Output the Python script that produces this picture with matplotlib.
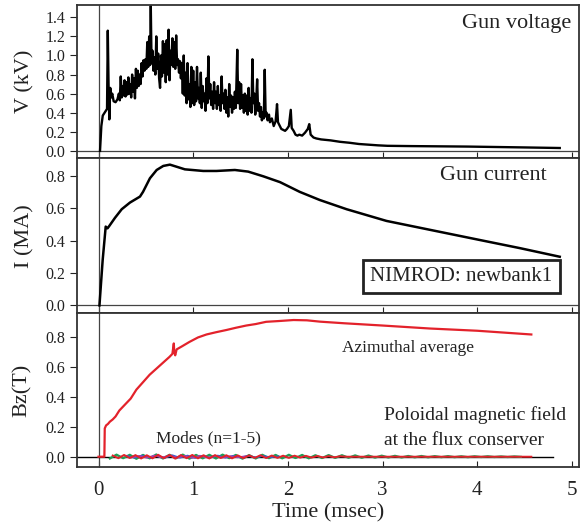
import matplotlib
matplotlib.use("Agg")
import matplotlib.pyplot as plt

plt.rcParams['font.family'] = ['Liberation Serif', 'DejaVu Serif']

# gun voltage (kV) vs time (msec)
volt_t = [0.016, 0.03, 0.045, 0.07, 0.09, 0.098, 0.106, 0.114, 0.124, 0.134,
          0.145, 0.16, 0.18, 0.20, 0.215, 0.225, 0.235, 0.245, 0.255, 0.265,
          0.275, 0.285, 0.295, 0.305, 0.315, 0.325, 0.335, 0.345, 0.355, 0.365,
          0.375, 0.385, 0.395, 0.405, 0.415, 0.425, 0.435, 0.445, 0.455, 0.465,
          0.475, 0.485, 0.495, 0.505, 0.515, 0.525, 0.535, 0.545, 0.552, 0.56,
          0.57, 0.58, 0.59, 0.60, 0.61, 0.62, 0.63, 0.64, 0.65, 0.66,
          0.67, 0.68, 0.69, 0.70, 0.71, 0.72, 0.73, 0.74, 0.75, 0.76,
          0.77, 0.78, 0.79, 0.80, 0.81, 0.82, 0.83, 0.84, 0.85, 0.86,
          0.87, 0.88, 0.89, 0.90, 0.91, 0.92, 0.93, 0.94, 0.95, 0.96,
          0.97, 0.98, 0.99, 1.00, 1.01, 1.02, 1.03, 1.04, 1.05, 1.06,
          1.07, 1.08, 1.09, 1.10, 1.11, 1.12, 1.13, 1.14, 1.15, 1.16,
          1.17, 1.18, 1.19, 1.20, 1.21, 1.22, 1.23, 1.24, 1.25, 1.26,
          1.27, 1.28, 1.29, 1.30, 1.31, 1.32, 1.33, 1.34, 1.35, 1.36,
          1.37, 1.38, 1.39, 1.40, 1.41, 1.42, 1.43, 1.44, 1.45, 1.465,
          1.475, 1.485, 1.495, 1.505, 1.515, 1.525, 1.535, 1.545, 1.555, 1.565,
          1.575, 1.585, 1.595, 1.605, 1.615, 1.625, 1.635, 1.645, 1.655, 1.665,
          1.675, 1.685, 1.695, 1.705, 1.715, 1.725, 1.735, 1.745, 1.755, 1.765,
          1.775, 1.785, 1.80, 1.81, 1.83, 1.85, 1.87, 1.885, 1.895, 1.91,
          1.93, 1.95, 1.97, 1.99, 2.01, 2.03, 2.04, 2.06, 2.08, 2.10,
          2.12, 2.15, 2.18, 2.21, 2.225, 2.24, 2.27, 2.30, 2.35, 2.45,
          2.55, 2.65, 2.75, 2.85, 2.95, 3.05, 3.3, 3.6, 3.9, 4.2,
          4.5, 4.87]
volt_v = [0.00, 0.26, 0.37, 0.41, 0.44, 1.26, 0.70, 0.33, 0.66, 0.56,
          0.60, 0.52, 0.51, 0.54, 0.60, 0.53, 0.78, 0.56, 0.68, 0.58,
          0.74, 0.57, 0.72, 0.59, 0.77, 0.60, 0.70, 0.56, 0.80, 0.62,
          0.76, 0.55, 0.86, 0.66, 0.84, 0.68, 0.80, 0.70, 0.92, 0.78,
          0.95, 0.84, 0.96, 0.86, 1.14, 0.88, 1.20, 0.90, 1.52, 0.92,
          1.05, 0.84, 0.98, 0.80, 1.20, 0.86, 1.02, 0.76, 0.66, 1.00,
          0.78, 1.15, 0.82, 1.12, 0.72, 1.16, 0.80, 1.27, 0.74, 1.05,
          0.90, 1.18, 0.88, 1.14, 0.86, 1.21, 0.90, 0.96, 0.82, 0.94,
          0.76, 0.92, 0.60, 1.00, 0.58, 0.82, 0.50, 0.92, 0.54, 0.70,
          0.46, 0.88, 0.50, 0.84, 0.48, 0.72, 0.52, 0.88, 0.55, 0.66,
          0.50, 0.82, 0.45, 0.68, 0.52, 0.60, 0.42, 0.76, 0.50, 0.99,
          0.55, 0.70, 0.48, 0.62, 0.44, 0.72, 0.50, 0.62, 0.44, 0.68,
          0.48, 0.58, 0.42, 0.78, 0.50, 0.60, 0.44, 0.64, 0.40, 0.56,
          0.36, 0.70, 0.46, 0.58, 0.40, 0.56, 0.44, 0.62, 0.45, 1.06,
          0.50, 0.72, 0.44, 0.70, 0.45, 0.58, 0.40, 0.60, 0.42, 0.58,
          0.38, 0.66, 0.42, 0.55, 0.40, 0.96, 0.50, 0.60, 0.38, 0.52,
          0.75, 0.42, 0.50, 0.36, 0.46, 0.32, 0.40, 0.34, 0.85, 0.36,
          0.40, 0.32, 0.38, 0.30, 0.34, 0.26, 0.31, 0.49, 0.30, 0.27,
          0.23, 0.22, 0.21, 0.23, 0.26, 0.43, 0.24, 0.21, 0.17, 0.16,
          0.17, 0.16, 0.19, 0.23, 0.28, 0.17, 0.14, 0.13, 0.12, 0.11,
          0.095, 0.085, 0.072, 0.065, 0.058, 0.053, 0.05, 0.048, 0.045, 0.04,
          0.036, 0.03]

# gun current (MA)
curr_t = [0.01, 0.044, 0.076, 0.095, 0.114, 0.174, 0.245, 0.332, 0.438, 0.47,
          0.543, 0.614, 0.684, 0.754, 0.825, 0.912, 1.106, 1.246, 1.44, 1.58,
          1.74, 1.917, 2.125, 2.336, 2.62, 3.04, 3.5, 4.02, 4.45, 4.87]
curr_i = [0.0, 0.28, 0.486, 0.475, 0.49, 0.54, 0.593, 0.634, 0.671, 0.70,
          0.784, 0.835, 0.86, 0.868, 0.855, 0.839, 0.829, 0.829, 0.835, 0.825,
          0.796, 0.76, 0.70, 0.65, 0.593, 0.521, 0.466, 0.404, 0.353, 0.30]

# azimuthal average Bz (T)
bz_t = [0.0, 0.062, 0.066, 0.08, 0.10, 0.12, 0.15, 0.18, 0.22, 0.28,
        0.34, 0.40, 0.47, 0.54, 0.61, 0.68, 0.75, 0.78, 0.795, 0.80,
        0.81, 0.825, 0.88, 0.96, 1.05, 1.14, 1.24, 1.35, 1.45, 1.56,
        1.66, 1.77, 1.90, 2.06, 2.20, 2.34, 2.6, 3.0, 3.5, 4.0, 4.57]
bz_b = [0.0, 0.0, 0.19, 0.21, 0.22, 0.235, 0.25, 0.27, 0.31, 0.35,
        0.39, 0.45, 0.50, 0.55, 0.59, 0.63, 0.67, 0.69, 0.76, 0.70,
        0.68, 0.72, 0.74, 0.77, 0.80, 0.82, 0.835, 0.85, 0.865, 0.88,
        0.89, 0.905, 0.91, 0.917, 0.915, 0.906, 0.895, 0.88, 0.86, 0.845, 0.82]

# modes n=1-5
green_t = [0.12, 0.19, 0.26, 0.33, 0.40, 0.47, 0.54, 0.61, 0.68, 0.75,
           0.82, 0.89, 0.96, 1.03, 1.10, 1.17, 1.24, 1.31, 1.38, 1.45,
           1.52, 1.59, 1.66, 1.73, 1.80, 1.87, 1.94, 2.01, 2.08, 2.15,
           2.22, 2.29, 2.36, 2.43, 2.50, 2.57, 2.64, 2.71, 2.78, 2.85,
           2.92, 2.99, 3.06, 3.13, 3.20, 3.27, 3.34, 3.41, 3.48, 3.55,
           3.62, 3.69, 3.76, 3.83, 3.90, 3.97, 4.04, 4.11, 4.18, 4.25,
           4.32, 4.39, 4.46]
green_b = [-0.012, 0.014, -0.010, 0.013, -0.014, 0.012, -0.011, 0.015, -0.012, 0.013,
           -0.010, 0.014, -0.013, 0.012, -0.011, 0.013, -0.012, 0.014, -0.010, 0.012,
           -0.013, 0.011, -0.012, 0.013, -0.010, 0.012, -0.011, 0.013, -0.009, 0.012,
           -0.011, 0.010, -0.009, 0.011, -0.008, 0.010, -0.007, 0.009, -0.007, 0.008,
           -0.006, 0.007, -0.005, 0.006, -0.005, 0.005, -0.004, 0.005, -0.004, 0.004,
           -0.003, 0.004, -0.003, 0.003, -0.003, 0.003, -0.002, 0.003, -0.002, 0.002,
           -0.002, 0.002, -0.001]
red_t = [0.15, 0.21, 0.27, 0.33, 0.39, 0.45, 0.51, 0.57, 0.63, 0.69,
         0.75, 0.81, 0.87, 0.93, 0.99, 1.05, 1.11, 1.17, 1.23, 1.29,
         1.35, 1.41, 1.47, 1.53, 1.59, 1.65, 1.71, 1.77, 1.83, 1.89,
         1.95, 2.01, 2.07, 2.13, 2.19, 2.25, 2.31, 2.37, 2.43, 2.49,
         2.55, 2.62, 4.57]
red_b = [0.008, -0.010, 0.012, -0.009, 0.011, -0.012, 0.010, -0.011, 0.013, -0.010,
         0.012, -0.013, 0.011, -0.010, 0.012, -0.011, 0.010, -0.012, 0.011, -0.009,
         0.010, -0.011, 0.009, -0.010, 0.009, -0.008, 0.010, -0.009, 0.008, -0.008,
         0.007, -0.008, 0.007, -0.006, 0.006, -0.006, 0.005, -0.005, 0.004, -0.004,
         0.003, 0.0, 0.0]
blue_t = [0.30, 0.38, 0.46, 0.54, 0.62, 0.70, 0.78, 0.86, 0.94, 1.02,
          1.10, 1.18, 1.26, 1.34, 1.42, 1.50, 1.58, 1.66, 1.74, 1.82, 1.90]
blue_b = [0.006, -0.007, 0.008, -0.006, 0.009, -0.008, 0.010, -0.007, 0.008, -0.009,
          0.007, -0.006, 0.008, -0.007, 0.006, -0.005, 0.006, -0.004, 0.005, -0.004, 0.003]
purple_t = [0.35, 0.43, 0.51, 0.59, 0.67, 0.75, 0.83, 0.91, 0.99, 1.07,
            1.15, 1.23, 1.31, 1.39, 1.47, 1.55]
purple_b = [-0.005, 0.006, -0.007, 0.008, -0.006, 0.009, -0.007, 0.006, -0.008, 0.007,
            -0.006, 0.005, -0.006, 0.004, -0.004, 0.003]

xticks = [0, 1, 2, 3, 4, 5]
xlim = (-0.23, 5.07)
txt = '#222222'
red = '#e3222b'

fig = plt.figure(figsize=(5.83, 5.23), dpi=100)
L, W = 0.1316, 0.861
ax1 = fig.add_axes([L, 0.6973, W, 0.2937])
ax2 = fig.add_axes([L, 0.4015, W, 0.2958])
ax3 = fig.add_axes([L, 0.1065, W, 0.2950])

for ax in (ax1, ax2, ax3):
    ax.set_xlim(*xlim)
    ax.set_xticks(xticks)
    ax.tick_params(axis='x', direction='in', length=4, width=0.8, labelsize=15,
                   colors=txt, pad=10)
    ax.tick_params(axis='y', direction='out', length=5, width=0.8, labelsize=11.5,
                   colors=txt, pad=3)
    ax.axvline(0, color='#444444', lw=0.9)
    for s in ax.spines.values():
        s.set_linewidth(1.3)
        s.set_color('#333333')
    ax.yaxis.set_major_formatter(matplotlib.ticker.FormatStrFormatter('%.1f'))

ax1.tick_params(labelbottom=False)
ax2.tick_params(labelbottom=False)

# voltage
ax1.set_ylim(-0.078, 1.532)
ax1.set_yticks([0.0, 0.2, 0.4, 0.6, 0.8, 1.0, 1.2, 1.4])
ax1.axhline(0, color='#444444', lw=0.9)
ax1.plot(volt_t, volt_v, color='black', lw=1.7)
ax1.text(4.99, 1.34, 'Gun voltage', ha='right', va='center', fontsize=16, color=txt)
ax1.set_ylabel('V (kV)', fontsize=16, color=txt)
ax1.yaxis.set_label_coords(-0.085, 0.5)

# current
ax2.set_ylim(-0.047, 0.907)
ax2.set_yticks([0.0, 0.2, 0.4, 0.6, 0.8])
ax2.axhline(0, color='#444444', lw=0.9)
ax2.plot(curr_t, curr_i, color='black', lw=1.8)
ax2.text(4.73, 0.80, 'Gun current', ha='right', va='center', fontsize=16, color=txt)
ax2.text(3.83, 0.177, 'NIMROD: newbank1', ha='center', va='center', fontsize=15,
         color=txt, bbox=dict(boxstyle='square,pad=0.35', fc='white', ec='#222222', lw=2))
ax2.set_ylabel('I (MA)', fontsize=16, color=txt)
ax2.yaxis.set_label_coords(-0.085, 0.5)

# Bz
ax3.set_ylim(-0.071, 0.964)
ax3.set_yticks([0.0, 0.2, 0.4, 0.6, 0.8])
ax3.plot([xlim[0], 4.8], [0, 0], color='black', lw=1.0)
ax3.plot(green_t, green_b, color='#1f9e55', lw=1.6)
ax3.plot(blue_t, blue_b, color='#3a5fcd', lw=1.2)
ax3.plot(purple_t, purple_b, color='#a040b0', lw=1.2)
ax3.plot(red_t, red_b, color=red, lw=1.4)
ax3.plot(bz_t, bz_b, color=red, lw=1.6)
ax3.text(2.576, 0.73, 'Azimuthal average', ha='left', va='center', fontsize=12.5, color=txt)
ax3.text(0.603, 0.125, 'Modes (n=1-5)', ha='left', va='center', fontsize=12.5, color=txt)
ax3.text(3.01, 0.28, 'Poloidal magnetic field', ha='left', va='center', fontsize=14, color=txt)
ax3.text(3.01, 0.112, 'at the flux conserver', ha='left', va='center', fontsize=14, color=txt)
ax3.set_ylabel('Bz(T)', fontsize=16, color=txt)
ax3.yaxis.set_label_coords(-0.089, 0.5)
ax3.set_xlabel('Time (msec)', fontsize=16, color=txt, labelpad=2)

fig.savefig('out.png', dpi=100)
